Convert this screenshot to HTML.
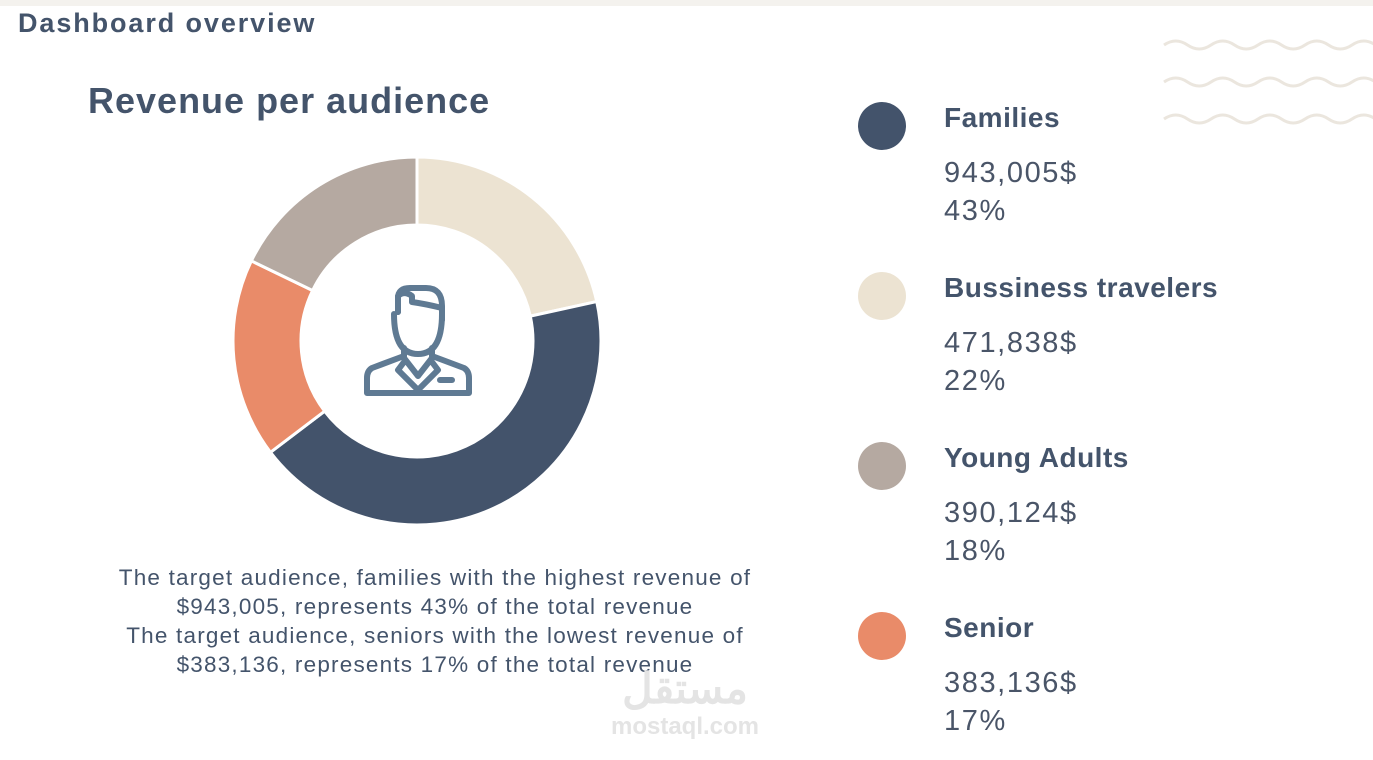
<!DOCTYPE html>
<html><head><meta charset="utf-8"><style>
body{margin:0;width:1373px;height:760px;background:#fff;position:relative;overflow:hidden;font-family:"Liberation Sans",sans-serif;color:#44546b}
.abs{position:absolute}
.lg-title{font-weight:bold;font-size:28px;letter-spacing:0.5px}
.lg-val{font-size:29px;line-height:38px;color:#4a5568;letter-spacing:1.6px}
.dot{width:48px;height:48px;border-radius:50%}
</style></head><body>
<div class="abs" style="left:0;top:0;width:1373px;height:6px;background:#f4f2ee"></div>
<div class="abs" style="left:18px;top:8px;font-size:27px;font-weight:bold;letter-spacing:1.9px">Dashboard overview</div>
<div class="abs" style="left:88px;top:80px;font-size:36px;font-weight:bold;letter-spacing:1px">Revenue per audience</div>
<svg class="abs" style="left:1160px;top:30px" width="213" height="110">
<g fill="none" stroke="#ebe6de" stroke-width="3">
<path d="M4 15 q11.75 -8 23.5 0 t23.5 0 t23.5 0 t23.5 0 t23.5 0 t23.5 0 t23.5 0 t23.5 0 t23.5 0"/>
<path d="M4 52 q11.75 -8 23.5 0 t23.5 0 t23.5 0 t23.5 0 t23.5 0 t23.5 0 t23.5 0 t23.5 0 t23.5 0"/>
<path d="M4 89 q11.75 -8 23.5 0 t23.5 0 t23.5 0 t23.5 0 t23.5 0 t23.5 0 t23.5 0 t23.5 0 t23.5 0"/>
</g></svg>
<svg class="abs" id="donut" style="left:0;top:0" width="840" height="560"></svg>
<svg class="abs" style="left:360px;top:282px" width="115" height="120" viewBox="0 0 115 120">
<g fill="none" stroke="#5f7a93" stroke-width="6" stroke-linejoin="round" stroke-linecap="round">
<path d="M38 30 v-14 q0 -10 12 -10 h16 q16 0 16 18 v14"/>
<path d="M38 30 v-16 q6 -6 14 0 v6 q14 2 30 6"/>
<path d="M34 32 q0 40 24 40 q24 0 24 -40"/>
<path d="M44 66 v8 l-32 12 q-5 3 -5 10 v15 h102 v-15 q0 -7 -5 -10 l-32 -12 v-8"/>
<path d="M44 76 l14 18 l14 -18 M44 80 l-6 8 l20 20 l20 -20 l-6 -8"/>
<path d="M80 98 h12"/>
</g></svg>
<div class="abs" style="left:35px;top:563px;width:800px;text-align:center;font-size:22.5px;line-height:29px;letter-spacing:1.2px;color:#44546b">The target audience, families with the highest revenue of<br>$943,005, represents 43% of the total revenue<br>The target audience, seniors with the lowest revenue of<br>$383,136, represents 17% of the total revenue</div>
<div class="abs" style="left:600px;top:665px;width:170px;text-align:center;color:#e4e4e4;font-weight:bold"><div style="font-size:42px;line-height:48px">مستقل</div><div style="font-size:24px">mostaql.com</div></div>
<div id="legend"></div>
<script>
const categories=["Bussiness travelers","Families","Senior","Young Adults"];
const values=[471838,943005,383136,390124];
const percents=["22%","43%","17%","18%"];
const colors=["#ece3d2","#43536b","#e98b69","#b5a9a1"];
const legendOrder=[1,0,3,2];
const cx=417,cy=341,R=184,r=116;
const svg=document.getElementById('donut');
const total=values.reduce((a,b)=>a+b,0);
function pt(a,rad){return [cx+rad*Math.sin(a),cy-rad*Math.cos(a)];}
let acc=0;
values.forEach((v,i)=>{
 const a0=acc/total*2*Math.PI;acc+=v;const a1=acc/total*2*Math.PI;
 const L=(a1-a0)>Math.PI?1:0;
 const [x0,y0]=pt(a0,R),[x1,y1]=pt(a1,R),[x2,y2]=pt(a1,r),[x3,y3]=pt(a0,r);
 const p=document.createElementNS('http://www.w3.org/2000/svg','path');
 p.setAttribute('d',`M${x0} ${y0}A${R} ${R} 0 ${L} 1 ${x1} ${y1}L${x2} ${y2}A${r} ${r} 0 ${L} 0 ${x3} ${y3}Z`);
 p.setAttribute('fill',colors[i]);p.setAttribute('stroke','#fff');p.setAttribute('stroke-width','3');
 
 
 svg.appendChild(p);
});
const lg=document.getElementById('legend');
legendOrder.forEach((i,k)=>{
 const top=100+k*170;
 const d=document.createElement('div');
 d.className='abs';d.style.left='858px';d.style.top=top+'px';
 
 
 d.innerHTML=`<div class="abs dot" style="left:0;top:2px;background:${colors[i]}"></div><div class="abs lg-title" style="left:86px;top:2px;white-space:nowrap">${categories[i]}</div><div class="abs lg-val" style="left:86px;top:54px;white-space:nowrap">${values[i].toLocaleString('en-US')}$<br>${percents[i]}</div>`;
 lg.appendChild(d);
});
</script>
</body></html>
